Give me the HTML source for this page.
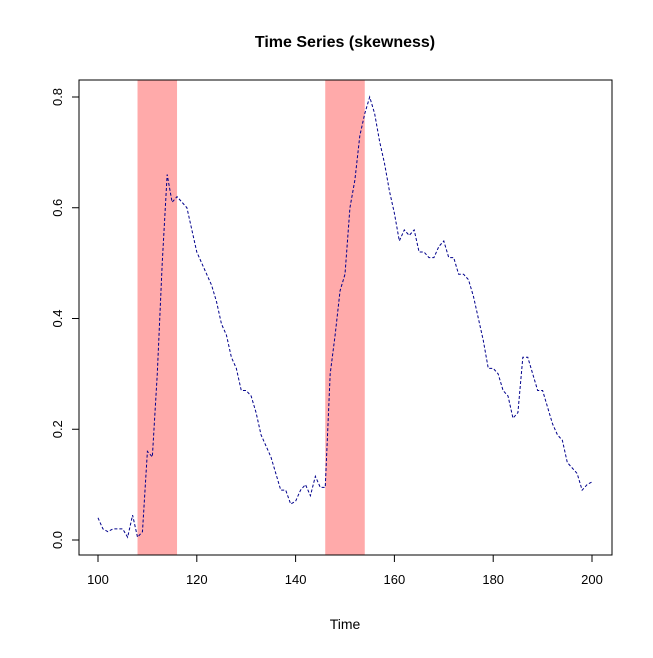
<!DOCTYPE html>
<html><head><meta charset="utf-8"><style>
body{margin:0;background:#fff}
svg text{font-family:"Liberation Sans",Arial,sans-serif;fill:#000}
</style></head><body>
<svg id="chart" width="653" height="653" xmlns="http://www.w3.org/2000/svg">
<text x="345" y="47" font-size="16" font-weight="bold" text-anchor="middle">Time Series (skewness)</text>
<g id="bands"></g>
<polyline id="series" fill="none" stroke="#00008b" stroke-width="1" stroke-dasharray="3,2"/>
<rect x="79" y="80" width="533" height="475" fill="none" stroke="#000"/>
<g id="xaxis"></g>
<g id="yaxis"></g>
<text x="345" y="629" font-size="14" text-anchor="middle">Time</text>
</svg>
<script>
const startTime = 100;
const values = [0.04,0.02,0.015,0.02,0.02,0.02,0.005,0.045,0.005,0.015,
0.16,0.15,0.30,0.50,0.66,0.61,0.62,0.61,0.60,0.56,
0.52,0.50,0.48,0.46,0.43,0.39,0.37,0.33,0.31,0.27,
0.27,0.26,0.23,0.19,0.17,0.15,0.12,0.09,0.09,0.065,
0.07,0.09,0.10,0.08,0.115,0.095,0.095,0.30,0.37,0.45,
0.48,0.60,0.65,0.73,0.77,0.80,0.77,0.72,0.68,0.63,
0.59,0.54,0.56,0.55,0.56,0.52,0.52,0.51,0.51,0.53,
0.54,0.51,0.51,0.48,0.48,0.47,0.44,0.40,0.36,0.31,
0.31,0.30,0.27,0.26,0.22,0.23,0.33,0.33,0.30,0.27,
0.27,0.24,0.21,0.19,0.18,0.14,0.13,0.12,0.09,0.10,0.105];
const bandStarts = [108,146];
const bandEnds = [116,154];
const xTicks = [100,120,140,160,180,200];
const yTicks = [0.0,0.2,0.4,0.6,0.8];

const X = t => 98 + (t-100)*4.94;
const Y = v => 540 - v*553.75;
const NS = "http://www.w3.org/2000/svg";
function mk(tag, attrs, parent){const e=document.createElementNS(NS,tag);for(const k in attrs)e.setAttribute(k,attrs[k]);parent.appendChild(e);return e;}

const bands=document.getElementById('bands');
bandStarts.forEach((s,i)=>{
  const r=mk('rect',{x:X(s),y:80,width:X(bandEnds[i])-X(s),height:475,fill:'#ffaaaa'},bands);
  
  
});
document.getElementById('series').setAttribute('points', values.map((v,i)=>X(startTime+i)+','+Y(v)).join(' '));

const xa=document.getElementById('xaxis');
mk('line',{x1:X(xTicks[0]),x2:X(xTicks[xTicks.length-1]),y1:555,y2:555,stroke:'#000'},xa);
xTicks.forEach(t=>{
  mk('line',{x1:X(t),x2:X(t),y1:555,y2:562,stroke:'#000'},xa);
  const tx=mk('text',{x:X(t),y:584,'font-size':13,'text-anchor':'middle'},xa);
  tx.textContent=t;
  
  
});
const ya=document.getElementById('yaxis');
mk('line',{x1:79,x2:79,y1:Y(yTicks[0]),y2:Y(yTicks[yTicks.length-1]),stroke:'#000'},ya);
yTicks.forEach(v=>{
  mk('line',{x1:72,x2:79,y1:Y(v),y2:Y(v),stroke:'#000'},ya);
  const tx=mk('text',{x:0,y:0,'font-size':13,'text-anchor':'middle',transform:`translate(62,${Y(v)}) rotate(-90)`},ya);
  tx.textContent=v.toFixed(1);
  
  
});
</script>
</body></html>
